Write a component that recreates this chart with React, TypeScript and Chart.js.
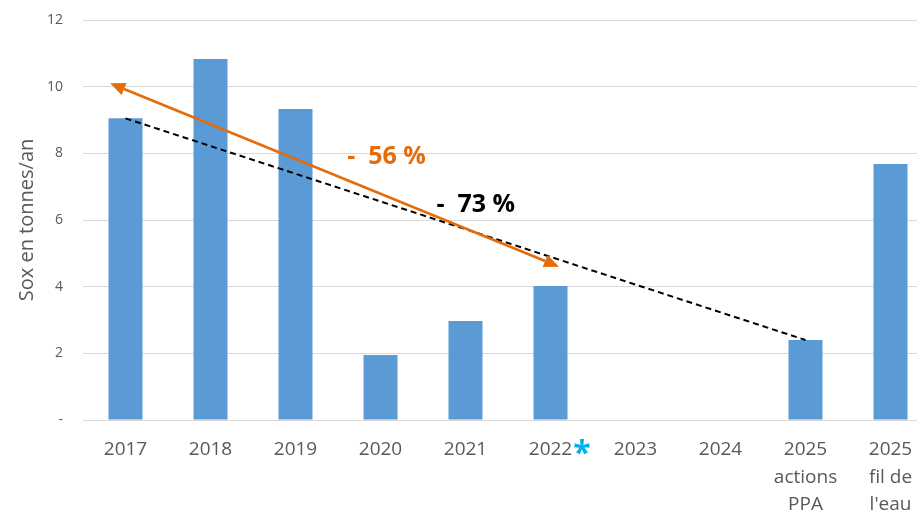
import React, { useEffect, useRef } from "react";
import { Chart, registerables } from "chart.js";

Chart.register(...registerables);

const categories: (string | string[])[] = [
  "2017", "2018", "2019", "2020", "2021", "2022", "2023", "2024",
  ["2025", "actions", "PPA"], ["2025", "fil de", "l'eau"],
];
const soxValues: (number | null)[] = [9.05, 10.83, 9.33, 1.95, 2.97, 4.02, null, null, 2.4, 7.68];
const trendValues: (number | null)[] = [9.05, null, null, null, null, null, null, null, 2.4, null];
const yTicks = [0, 2, 4, 6, 8, 10, 12];
const arrowFrom = [-0.18, 10.1];
const arrowTo = [5.1, 4.6];
const noteTexts = ["-  56 %", "-  73 %"];
const notePositions = [[3.07, 7.89], [4.12, 6.45]];
const noteColors = ["#E46C0A", "#000000"];
const starCategory = 5;

const FONT = "'Open Sans', 'Noto Sans', sans-serif";

const annotPlugin = {
  id: "annot",
  afterDatasetsDraw(chart: any) {
    const { ctx, scales } = chart;
    const x = scales.x, y = scales.y;
    ctx.save();
    const x1 = x.getPixelForValue(arrowFrom[0]), y1 = y.getPixelForValue(arrowFrom[1]);
    const x2 = x.getPixelForValue(arrowTo[0]), y2 = y.getPixelForValue(arrowTo[1]);
    const ang = Math.atan2(y2 - y1, x2 - x1);
    const hl = 15, hw = 6.5;
    ctx.strokeStyle = "#E46C0A";
    ctx.fillStyle = "#E46C0A";
    ctx.lineWidth = 2.5;
    ctx.beginPath();
    ctx.moveTo(x1 + Math.cos(ang) * hl, y1 + Math.sin(ang) * hl);
    ctx.lineTo(x2 - Math.cos(ang) * hl, y2 - Math.sin(ang) * hl);
    ctx.stroke();
    const head = (tx: number, ty: number, a: number) => {
      const bx = tx - Math.cos(a) * hl, by = ty - Math.sin(a) * hl;
      ctx.beginPath();
      ctx.moveTo(tx, ty);
      ctx.lineTo(bx + Math.sin(a) * hw, by - Math.cos(a) * hw);
      ctx.lineTo(bx - Math.sin(a) * hw, by + Math.cos(a) * hw);
      ctx.closePath();
      ctx.fill();
    };
    head(x2, y2, ang);
    head(x1, y1, ang + Math.PI);
    ctx.font = `bold 25px ${FONT}`;
    ctx.textAlign = "center";
    ctx.textBaseline = "middle";
    noteTexts.forEach((t, i) => {
      ctx.fillStyle = noteColors[i];
      ctx.fillText(t, x.getPixelForValue(notePositions[i][0]), y.getPixelForValue(notePositions[i][1]));
    });
    ctx.restore();
  },
  afterDraw(chart: any) {
    const { ctx, scales } = chart;
    const x = scales.x;
    ctx.save();
    ctx.font = `19px ${FONT}`;
    const w = ctx.measureText("2022").width;
    const cx = x.getPixelForValue(starCategory);
    ctx.font = `bold 32px ${FONT}`;
    ctx.fillStyle = "#00B0F0";
    ctx.textAlign = "left";
    ctx.textBaseline = "top";
    ctx.fillText("*", cx + w / 2 + 1, x.top + 19);
    ctx.restore();
  },
};

export default function App() {
  const ref = useRef<HTMLCanvasElement>(null);
  useEffect(() => {
    if (!ref.current) return;
    const chart = new Chart(ref.current, {
      type: "bar",
      data: {
        labels: categories as any,
        datasets: [
          {
            type: "line" as any,
            data: trendValues,
            borderColor: "#000000",
            borderWidth: 2,
            borderDash: [6, 4],
            pointRadius: 0,
            spanGaps: true,
            order: 0,
          } as any,
          {
            type: "bar",
            data: soxValues,
            backgroundColor: "#5B9BD5",
            barPercentage: 0.4,
            categoryPercentage: 1,
            order: 1,
          },
        ],
      },
      options: {
        responsive: false,
        animation: false,
        layout: { padding: { top: 20, left: 0, right: 0, bottom: 0 } },
        plugins: { legend: { display: false }, tooltip: { enabled: false } },
        scales: {
          x: {
            offset: true,
            grid: { display: false, drawTicks: false },
            border: { display: true, color: "#d9d9d9", width: 1 },
            ticks: {
              color: "#595959",
              font: { family: FONT, size: 19, lineHeight: 1.45 },
              padding: 16,
              maxRotation: 0,
              autoSkip: false,
            },
            afterFit: (s: any) => { s.height = 94; },
          },
          y: {
            min: 0,
            max: 12,
            afterBuildTicks: (s: any) => { s.ticks = yTicks.map((v) => ({ value: v })); },
            grid: { color: "#d9d9d9", drawTicks: false },
            border: { display: false },
            ticks: {
              color: "#595959",
              font: { family: FONT, size: 14 },
              padding: 20,
              callback: (v: any) => (v === 0 ? "-" : String(v)),
            },
            title: {
              display: true,
              text: "Sox en tonnes/an",
              color: "#595959",
              font: { family: FONT, size: 20 },
              padding: { top: 15, bottom: 0 },
            },
            afterFit: (s: any) => { s.width = 83; s.paddingTop = 0; s.paddingBottom = 0; },
          },
        },
      },
      plugins: [annotPlugin],
    });
    return () => chart.destroy();
  }, []);
  return (
    <div style={{ position: "fixed", left: 0, top: 0, width: 917, height: 514, overflow: "hidden", background: "#fff" }}>
      <canvas ref={ref} width={933} height={514} style={{ width: 933, height: 514, display: "block" }} />
    </div>
  );
}
